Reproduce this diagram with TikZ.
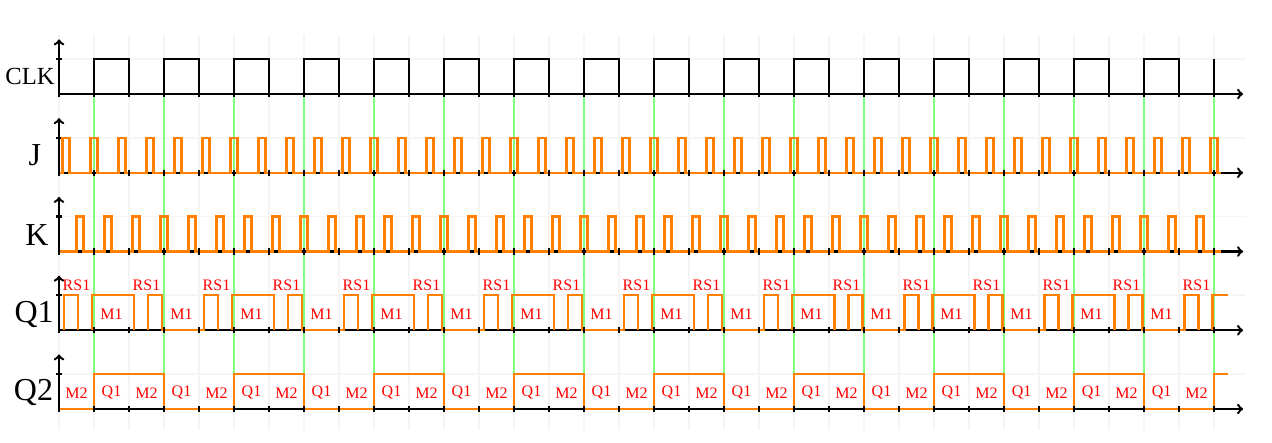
\documentclass[tikz,border=0pt]{standalone}
\usepackage{fontspec}
\newfontfamily\labfont{Liberation Serif}
\begin{document}
\begin{tikzpicture}[x=1cm,y=1cm,
  sig/.style={line width=2pt, orange},
  clksig/.style={line width=2pt, black},
  axisline/.style={line width=2pt, black},
  gridline/.style={line width=1.5pt, black!4},
  edgeline/.style={line width=2pt, green!50},
  biglab/.style={font=\labfont\fontsize{26}{26}\selectfont, inner sep=0pt},
  clklab/.style={font=\labfont\fontsize{20}{20}\selectfont, inner sep=0pt},
  redlab/.style={font=\labfont\fontsize{13}{13}\selectfont, text=red, inner sep=0pt}]
\useasboundingbox (-1.686,-9.971) rectangle (34.657,2.686);

% grid
\foreach \yy in {0,-2.25,-4.5,-6.75,-9}{
  \begin{scope}[yshift=\yy cm]
    \draw[gridline] (0,1) -- (33.9,1);
  \end{scope}
}
\foreach \x in {0,...,33}{
  \draw[gridline] (\x,1.69) -- (\x,-9.6);
}

% clock edge markers
\foreach \x in {1,3,...,33}{
  \draw[edgeline] (\x,0) -- (\x,-8);
}

% axes
\foreach \yy in {0,-2.25,-4.5,-6.75,-9}{
  \begin{scope}[yshift=\yy cm]
    \draw[axisline,->] (0,0) -- (33.83,0);
    \draw[axisline,->] (0,-0.08) -- (0,1.56);
    \draw[axisline] (-0.08,1) -- (0.08,1);
  \end{scope}
}

% CLK
\draw[clksig] (0,0) \foreach \k in {0,...,15}{ -- ({2*\k+1},0) -- ({2*\k+1},1) -- ({2*\k+2},1) -- ({2*\k+2},0) } -- (33,0) -- (33,1);

% J
\begin{scope}[yshift=-2.25cm]
\draw[sig] (0,0) \foreach \k in {0,...,41}{ -- ({0.1+0.8*\k},0) -- ({0.1+0.8*\k},1) -- ({0.3+0.8*\k},1) -- ({0.3+0.8*\k},0) } -- (33.2,0);
\end{scope}

% K
\begin{scope}[yshift=-4.5cm]
\draw[sig] (0,0) \foreach \k in {0,...,40}{ -- ({0.5+0.8*\k},0) -- ({0.5+0.8*\k},1) -- ({0.7+0.8*\k},1) -- ({0.7+0.8*\k},0) } -- (33.2,0);
\end{scope}

% Q1
\begin{scope}[yshift=-6.75cm]
\draw[sig] (0.15,0) -- (0.15,1) -- (0.55,1) -- (0.55,0);
\foreach \k in {0,...,7}{
  \pgfmathsetmacro{\b}{4*\k}
  \draw[sig] ({\b+0.95},0) -- ({\b+0.95},1) -- ({\b+2.15},1) -- ({\b+2.15},0);
  \draw[sig] ({\b+2.55},0) -- ({\b+2.55},1) -- ({\b+2.95},1) -- ({\b+2.95},0) -- ({\b+4.15},0) -- ({\b+4.15},1) -- ({\b+4.55},1) -- ({\b+4.55},0);
}
\draw[sig] (32.95,0) -- (32.95,1) -- (33.4,1);
\foreach \k in {0,...,16}{
  \node[redlab] (rs\k) at ({2*\k+0.5},1.28) {RS1};
}
\foreach \k in {0,...,15}{
  \node[redlab] (ma\k) at ({2*\k+1.5},0.46) {M1};
}
\end{scope}

% Q2
\begin{scope}[yshift=-9cm]
\draw[sig] (0,0) \foreach \k in {0,...,7}{ -- ({4*\k+1},0) -- ({4*\k+1},1) -- ({4*\k+3},1) -- ({4*\k+3},0) } -- (33,0) -- (33,1) -- (33.4,1);
\foreach \k in {0,...,16}{
  \node[redlab] (mb\k) at ({2*\k+0.5},0.46) {M2};
}
\foreach \k in {0,...,15}{
  \node[redlab] (qa\k) at ({2*\k+1.5},0.46) {Q1};
}
\end{scope}

% x ticks
\foreach \yy in {0,-2.25,-4.5,-6.75,-9}{
  \begin{scope}[yshift=\yy cm]
    \foreach \x in {0,...,33}{
      \draw[axisline] (\x,-0.09) -- (\x,0.09);
    }
  \end{scope}
}

% row labels
\node[clklab] (lclk) at (-0.83,0.49) {CLK};
\node[biglab] (lj) at (-0.69,-1.76) {J};
\node[biglab] (lk) at (-0.63,-4.03) {K};
\node[biglab] (lq1) at (-0.71,-6.3) {Q1};
\node[biglab] (lq2) at (-0.73,-8.54) {Q2};
\end{tikzpicture}
\end{document}
